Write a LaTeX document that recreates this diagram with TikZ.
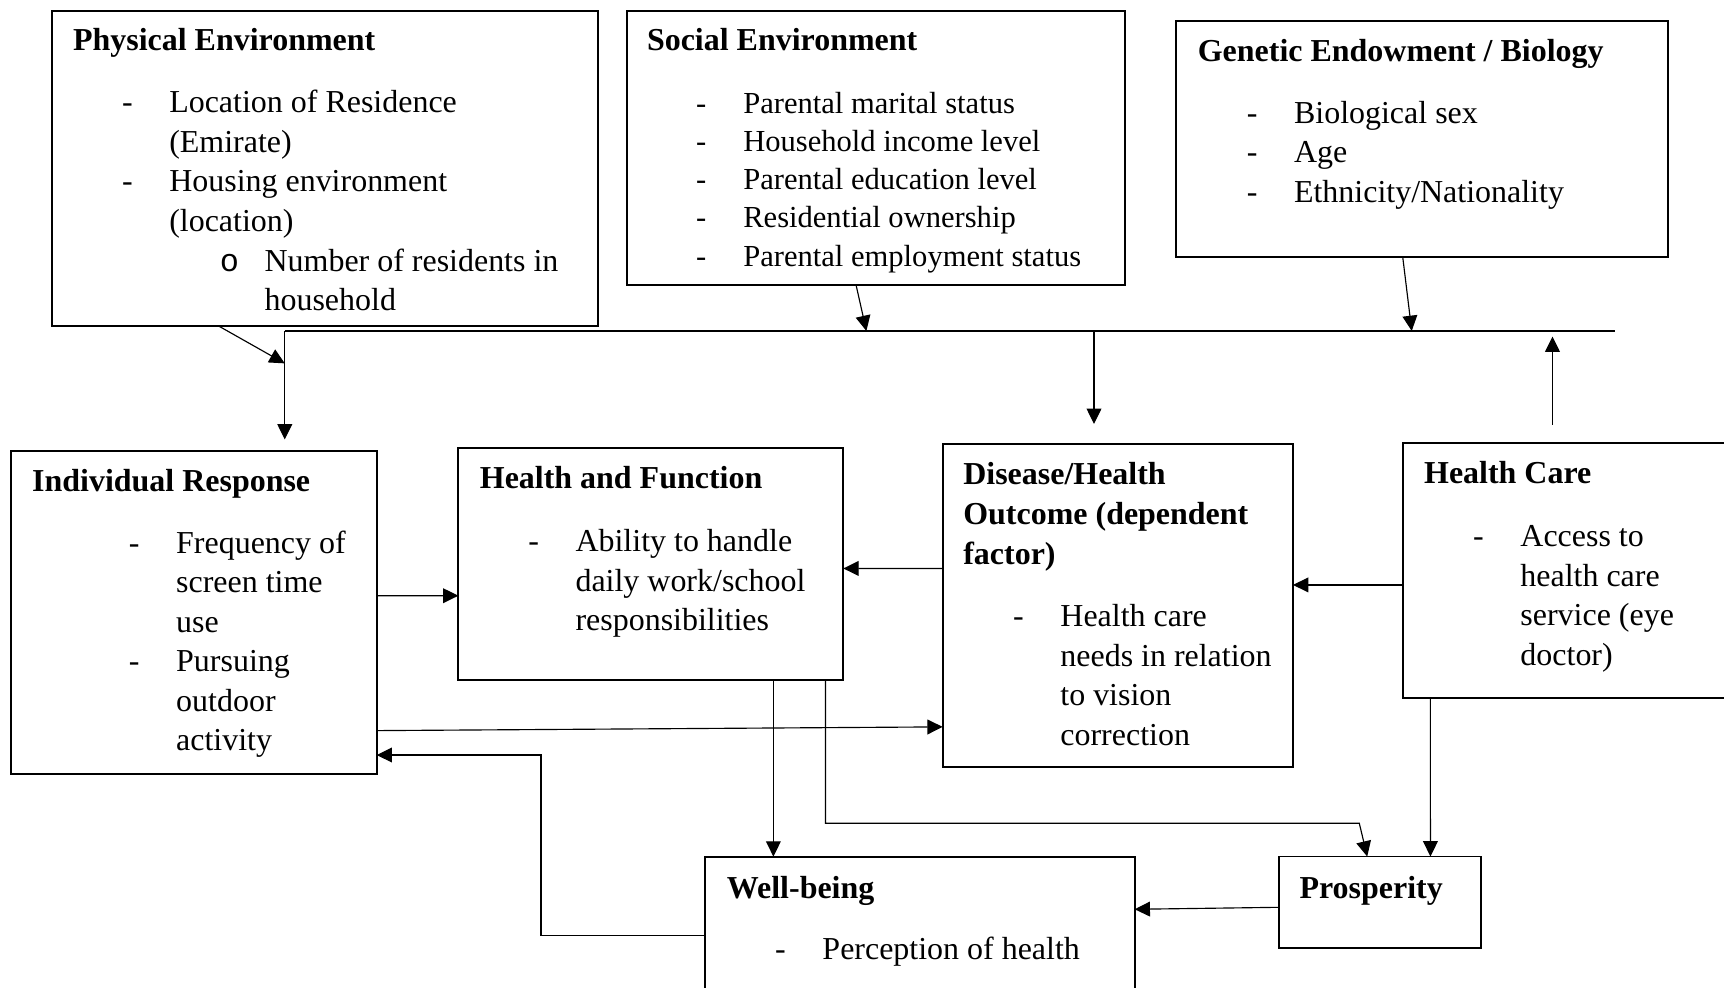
\documentclass[tikz,border=0pt]{standalone}
\usepackage{fontspec}
\setmainfont{Liberation Serif}
\setmonofont{Liberation Mono}
\usetikzlibrary{arrows.meta,calc}

\newlength{\pxl}
\setlength{\pxl}{0.4317pt}
\newcommand{\stdfont}{\fontsize{12.55}{15.54}\selectfont}
\newcommand{\dashlist}[1]{\begin{tabular}[t]{@{}p{43\pxl}@{}l@{}}#1\end{tabular}}
\newcommand{\subitm}[1]{\makebox[86.7\pxl][l]{\hspace{46\pxl}\texttt{o}}#1}

\begin{document}
\begin{tikzpicture}[x=0.4317pt, y=-0.4317pt,
    box/.style={rectangle, draw, line width=0.75pt, anchor=north west, inner sep=0pt, outer sep=0pt},
    title/.style={anchor=base west, inner sep=0pt, font=\stdfont\bfseries},
    items/.style={anchor=base west, inner sep=0pt, font=\stdfont},
    wire/.style={line width=0.45pt},
    >={Triangle[length=6pt,width=5.8pt]}]
            \useasboundingbox (0,0) rectangle (1568,898);

            % Physical Environment
            \node[box, minimum width=496.7*\pxl, minimum height=286.8*\pxl] (phys) at (47.5,9.7) {};
            \node[title] (physT) at (66,46) {Physical Environment};
            \node[items] (physL) at (110.5,102.5)
                {\dashlist{- & Location of Residence\\ & (Emirate)\\ - & Housing environment\\ & (location)\\
                 & \subitm{Number of residents in}\\ & \hspace{86.7\pxl}household}};

            % Social Environment
            \node[box, minimum width=453.2*\pxl, minimum height=249.2*\pxl] (soc) at (570,10) {};
            \node[title] (socT) at (588,46) {Social Environment};
            \node[items, font=\fontsize{12}{15.54}\selectfont] (socL) at (632.6,103)
                {\renewcommand{\arraystretch}{0.965}\dashlist{- & Parental marital status\\ - & Household income level\\
                 - & Parental education level\\ - & Residential ownership\\ - & Parental employment status}};

            % Genetic Endowment / Biology
            \node[box, minimum width=446.9*\pxl, minimum height=214.6*\pxl] (gen) at (1069.8,18.8) {};
            \node[title] (genT) at (1089,56) {Genetic Endowment / Biology};
            \node[items] (genL) at (1133.5,112)
                {\dashlist{- & Biological sex\\ - & Age\\ - & Ethnicity/Nationality}};

            % Individual Response
            \node[box, minimum width=332.9*\pxl, minimum height=294.1*\pxl] (indiv) at (9.7,409.9) {};
            \node[title] (indivT) at (28.8,447) {Individual Response};
            \node[items] (indivL) at (116.8,503)
                {\dashlist{- & Frequency of\\ & screen time\\ & use\\ - & Pursuing\\ & outdoor\\ & activity}};

            % Health and Function
            \node[box, minimum width=350.1*\pxl, minimum height=210.7*\pxl] (hf) at (416.9,407.8) {};
            \node[title] (hfT) at (436,444) {Health and Function};
            \node[items] (hfL) at (480,501.6)
                {\dashlist{- & Ability to handle\\ & daily work/school\\ & responsibilities}};

            % Disease/Health Outcome
            \node[box, minimum width=318.6*\pxl, minimum height=293.2*\pxl] (dis) at (857.4,404.1) {};
            \node[title] (disT) at (875.7,441)
                {\begin{tabular}[t]{@{}l@{}}Disease/Health\\ Outcome (dependent\\ factor)\end{tabular}};
            \node[items] (disL) at (921,570)
                {\dashlist{- & Health care\\ & needs in relation\\ & to vision\\ & correction}};

            % Health Care
            \node[box, minimum width=299.6*\pxl, minimum height=232.2*\pxl] (hc) at (1276.4,402.6) {};
            \node[title] (hcT) at (1294.8,439.5) {Health Care};
            \node[items] (hcL) at (1339.4,497)
                {\dashlist{- & Access to\\ & health care\\ & service (eye\\ & doctor)}};

            % Well-being
            \node[box, minimum width=390.4*\pxl, minimum height=126*\pxl] (wb) at (641.6,779.1) {};
            \node[title] (wbT) at (660.7,817) {Well-being};
            \node[items] (wbL) at (704.6,872.4) {\dashlist{- & Perception of health}};

            % Prosperity
            \node[box, minimum width=183.4*\pxl, minimum height=83.5*\pxl] (pros) at (1163.5,779) {};
            \node[title] (prosT) at (1181.5,817) {Prosperity};

            % Bus line
            \coordinate (busL) at (259,301);
            \coordinate (busS) at (788,301);
            \coordinate (busD) at (995,301);
            \coordinate (busG) at (1284,301);
            \coordinate (busH) at (1412,301);
            \coordinate (busR) at (1469,301);
            \draw[wire] (busL) -- (busR);

            % Into the bus
            \draw[->, wire] ($(phys.south)+(-97,0)$) -- ($(busL)+(0,29.5)$);
            \draw[->, wire] ($(soc.south)+(-18,0)$) -- (busS);
            \draw[->, wire] ($(gen.south)+(-17.5,0)$) -- (busG);
            \draw[->, wire, shorten <=7pt, shorten >=2.2pt] (busH |- hc.north) -- (busH);

            % Out of the bus
            \draw[->, wire, shorten >=4.4pt] (busL) -- (busL |- indiv.north);
            \draw[->, wire, shorten >=8pt] (busD) -- (busD |- dis.north);

            % Middle row
            \draw[->, wire] ($(indiv.north east)+(0,132)$) -- ($(hf.north west)+(0,134)$);
            \draw[->, wire] ($(indiv.north east)+(0,254.6)$) -- ($(dis.north west)+(0,257)$);
            \draw[->, wire] ($(dis.north west)+(0,113)$) -- ($(hf.north east)+(0,109.2)$);
            \draw[->, wire] ($(hc.north west)+(0,129.4)$) -- ($(dis.north east)+(0,127.9)$);

            % Bottom row
            \draw[->, wire] ($(hf.south west)+(286.5,0)$) -- ($(wb.north west)+(61.8,0)$);
            \draw[->, wire] ($(hf.south west)+(333.9,0)$) |- ($(pros.north west)+(72.8,-30.2)$) -- ($(pros.north west)+(80,0)$);
            \draw[->, wire] ($(hc.south west)+(24.5,0)$) -- ($(pros.north west)+(137.5,0)$);
            \draw[->, wire] ($(pros.north west)+(0,46.2)$) -- ($(wb.north east)+(0,47.9)$);
            \draw[->, wire] ($(wb.north west)+(0,72)$) -| ($(indiv.north east)+(149.4,276.8)$) -- ($(indiv.north east)+(0,276.8)$);
        \end{tikzpicture}
\end{document}
